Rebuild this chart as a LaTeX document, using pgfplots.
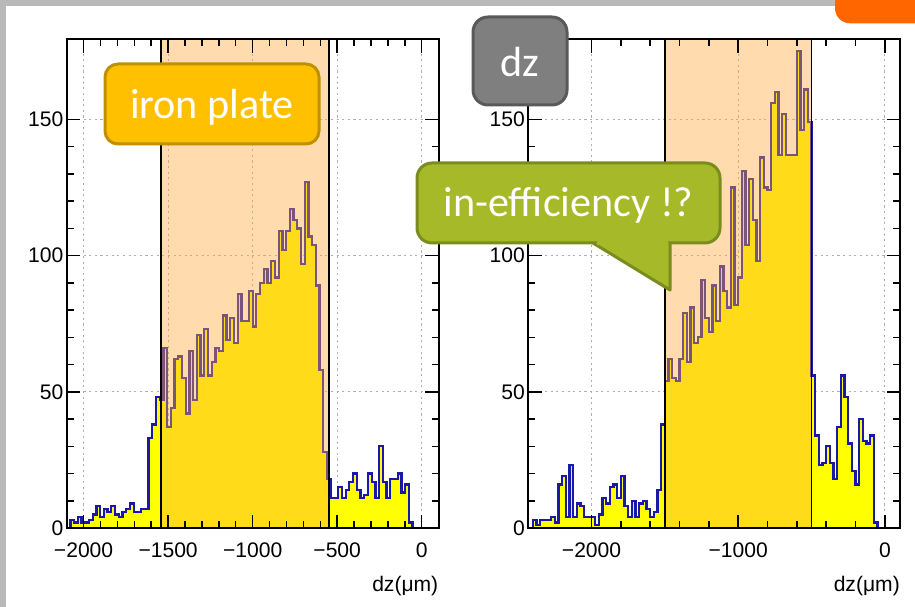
\documentclass[border=0pt]{standalone}
\usepackage{pgfplots}
\pgfplotsset{compat=1.18}
\usepackage{fontspec}
\setmainfont{Liberation Sans}
\newfontfamily\calibri{Carlito}

\definecolor{histblue}{RGB}{25,25,165}
\definecolor{histyellow}{RGB}{255,255,0}
\definecolor{bandc}{RGB}{255,170,60}
\definecolor{gridc}{RGB}{175,175,175}
\definecolor{ironfill}{RGB}{255,192,0}
\definecolor{irondraw}{RGB}{191,144,0}
\definecolor{dzfill}{RGB}{127,127,127}
\definecolor{dzdraw}{RGB}{89,89,89}
\definecolor{greenfill}{RGB}{166,185,40}
\definecolor{greendraw}{RGB}{122,140,30}
\definecolor{tabc}{RGB}{255,102,0}
\definecolor{bggray}{RGB}{185,185,185}

\pgfplotsset{rootax/.style={
  scale only axis, width=7.44cm, height=9.78cm, anchor=south west,
  ymin=0, ymax=179.5, ytick={0,50,100,150}, yticklabels={0,50,100,150},
  minor y tick num=4, minor x tick num=4,
  axis on top, tick align=inside,
  major tick length=0.27cm, minor tick length=0.14cm,
  every tick/.style={black, line width=0.03cm},
  axis line style={line width=0.04cm},
  tick label style={font=\fontsize{12}{14}\selectfont},
  yticklabel style={inner sep=0pt, xshift=-0.06cm},
  xticklabel style={inner sep=0pt, yshift=-0.29cm},
  xlabel={dz(μm)},
  xlabel style={at={(axis description cs:1,0)}, anchor=base east, yshift=-1.26cm, inner sep=0pt, font=\fontsize{12}{14}\selectfont},
}}

\begin{document}
\begin{tikzpicture}[x=0.02cm, y=0.02cm]
\useasboundingbox (0,0) rectangle (915,607);
\fill[bggray] (0,0) rectangle (915,607);
\fill[white] (6,0) rectangle (915,601.3);
\begin{scope}
\clip (0,0) rectangle (915,607);
\fill[tabc, rounded corners=0.3cm] (835,583.7) rectangle (960,650);
\end{scope}

% ---------- left histogram ----------
\begin{axis}[rootax, at={(1.334cm,1.58cm)},
  xmin=-2100, xmax=100,
  xtick={-2000,-1500,-1000,-500,0},
  xticklabels={−2000,−1500,−1000,−500,0}]
\pgfplotsinvokeforeach{-2000,-1500,-1000,-500,0}{
  \draw[gridc, dash pattern=on 1.2pt off 2pt, line width=0.5pt] (axis cs:#1,0) -- (axis cs:#1,179.5);}
\pgfplotsinvokeforeach{50,100,150}{
  \draw[gridc, dash pattern=on 1.2pt off 2pt, line width=0.5pt] (axis cs:-2100,#1) -- (axis cs:100,#1);}
\addplot[const plot, fill=histyellow, draw=histblue, line width=0.045cm] coordinates {
(-2100,0)(-2078,3)(-2056,2)(-2034,4)(-2012,2)(-1990,2)(-1968,3)(-1946,5)(-1924,8)(-1902,4)
(-1880,7)(-1858,6)(-1836,8)(-1814,5)(-1792,4)(-1770,6)(-1748,7)(-1726,9)(-1704,6)(-1682,6)
(-1660,7)(-1638,7)(-1616,33)(-1594,38)(-1572,48)(-1550,47)(-1528,66)(-1506,37)(-1484,44)(-1462,62)
(-1440,63)(-1418,55)(-1396,42)(-1374,65)(-1352,47)(-1330,71)(-1308,56)(-1286,73)(-1264,56)(-1242,61)
(-1220,66)(-1198,65)(-1176,78)(-1154,69)(-1132,77)(-1110,68)(-1088,86)(-1066,76)(-1044,76)(-1022,87)
(-1000,74)(-978,86)(-956,90)(-934,95)(-912,90)(-890,98)(-868,92)(-846,109)(-824,102)(-802,109)
(-780,117)(-758,113)(-736,110)(-714,97)(-692,127)(-670,107)(-648,104)(-626,89)(-604,58)(-582,28)
(-560,18)(-538,11)(-516,11)(-494,15)(-472,11)(-450,14)(-428,17)(-406,20)(-384,14)(-362,11)
(-340,12)(-318,20)(-296,17)(-274,11)(-252,30)(-230,17)(-208,11)(-186,18)(-164,18)(-142,20)
(-120,13)(-98,16)(-76,2)(-54,0)(100,0)} \closedcycle;
\fill[bandc, fill opacity=0.42] (axis cs:-1540,0) rectangle (axis cs:-550,179.5);
\draw[black, line width=0.035cm] (axis cs:-1540,0) -- (axis cs:-1540,179.5);
\draw[black, line width=0.035cm] (axis cs:-550,0) -- (axis cs:-550,179.5);
\end{axis}

% ---------- right histogram ----------
\begin{axis}[rootax, at={(10.566cm,1.58cm)},
  xmin=-2432, xmax=104,
  xtick={-2000,-1000,0},
  xticklabels={−2000,−1000,0}]
\pgfplotsinvokeforeach{-2000,-1000,0}{
  \draw[gridc, dash pattern=on 1.2pt off 2pt, line width=0.5pt] (axis cs:#1,0) -- (axis cs:#1,179.5);}
\pgfplotsinvokeforeach{50,100,150}{
  \draw[gridc, dash pattern=on 1.2pt off 2pt, line width=0.5pt] (axis cs:-2432,#1) -- (axis cs:104,#1);}
\addplot[const plot, fill=histyellow, draw=histblue, line width=0.045cm] coordinates {
(-2400,3)(-2375,1)(-2350,3)(-2325,3)(-2300,3)(-2275,4)(-2250,2)(-2225,16)(-2200,19)(-2175,4)
(-2150,23)(-2125,4)(-2100,9)(-2075,8)(-2050,4)(-2025,4)(-2000,4)(-1975,1)(-1950,5)(-1925,11)
(-1900,9)(-1875,15)(-1850,16)(-1825,11)(-1800,19)(-1775,8)(-1750,4)(-1725,10)(-1700,4)(-1675,9)
(-1650,10)(-1625,7)(-1600,4)(-1575,6)(-1550,14)(-1525,38)(-1500,54)(-1475,62)(-1450,55)(-1425,54)
(-1400,62)(-1375,79)(-1350,61)(-1325,81)(-1300,68)(-1275,70)(-1250,91)(-1225,77)(-1200,72)(-1175,89)
(-1150,76)(-1125,96)(-1100,87)(-1075,81)(-1050,125)(-1025,82)(-1000,92)(-975,131)(-950,104)(-925,128)
(-900,113)(-875,98)(-850,136)(-825,125)(-800,124)(-775,156)(-750,160)(-725,137)(-700,152)(-675,137)
(-650,137)(-625,137)(-600,175)(-575,146)(-550,161)(-525,149)(-500,56)(-475,34)(-450,23)(-425,24)
(-400,30)(-375,24)(-350,18)(-325,37)(-300,56)(-275,48)(-250,31)(-225,21)(-200,16)(-175,40)
(-150,32)(-125,31)(-100,34)(-75,2)(-50,0)(100,0)} \closedcycle;
\fill[bandc, fill opacity=0.42] (axis cs:-1500,0) rectangle (axis cs:-500,179.5);
\draw[black, line width=0.035cm] (axis cs:-1500,0) -- (axis cs:-1500,179.5);
\draw[black, line width=0.035cm] (axis cs:-500,0) -- (axis cs:-500,179.5);
\end{axis}

% ---------- callouts ----------
\draw[fill=ironfill, draw=irondraw, line width=0.06cm, rounded corners=0.26cm] (105,463) rectangle (319,543);
\node[anchor=base, text=white, inner sep=0pt, font=\calibri\fontsize{24}{28}\selectfont] at (212,488) {iron plate};

\draw[fill=dzfill, draw=dzdraw, line width=0.06cm, rounded corners=0.3cm] (473,502) rectangle (567,590);
\node[anchor=base, text=white, inner sep=0pt, font=\calibri\fontsize{24}{28}\selectfont] at (520,530) {dz};

\draw[fill=greenfill, draw=greendraw, line width=0.06cm, rounded corners=0.3cm] (417,364) rectangle (720,444);
\fill[greenfill] (593,364) -- (670,317) -- (670,364) -- cycle;
\draw[greendraw, line width=0.06cm, line join=round] (593,364) -- (670,317) -- (670,364);
\fill[greenfill] (597,361.5) rectangle (668.4,366.5);
\node[anchor=base, text=white, inner sep=0pt, font=\calibri\fontsize{24}{28}\selectfont] at (568.5,390) {in-efficiency !?};
\end{tikzpicture}
\end{document}
